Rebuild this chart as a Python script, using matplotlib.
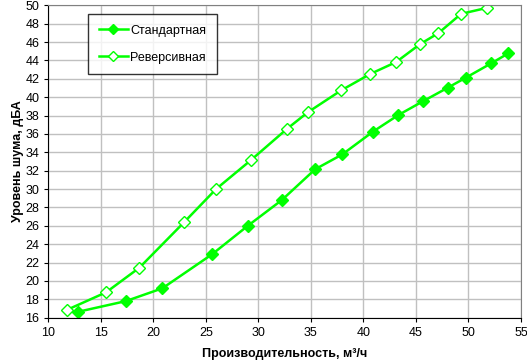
import matplotlib
matplotlib.use('Agg')
import matplotlib.pyplot as plt
from matplotlib.ticker import MultipleLocator

plt.rcParams['font.family'] = ['Liberation Sans', 'DejaVu Sans']

# data
std_x = [12.86, 17.37, 20.86, 25.59, 28.99, 32.23, 35.4, 38.0, 40.9, 43.33, 45.71, 48.03, 49.75, 52.16, 53.8]
std_y = [16.65, 17.8, 19.2, 22.9, 26.0, 28.8, 32.15, 33.78, 36.24, 38.06, 39.58, 41.03, 42.12, 43.68, 44.77]

rev_x = [11.75, 15.5, 18.67, 22.92, 25.97, 29.27, 32.7, 34.7, 37.88, 40.64, 43.11, 45.4, 47.14, 49.3, 51.8]
rev_y = [16.84, 18.76, 21.44, 26.38, 30.0, 33.13, 36.53, 38.35, 40.74, 42.52, 43.82, 45.78, 46.97, 49.07, 49.73]

labels = ['Стандартная', 'Реверсивная']
x_label = 'Производительность, м³/ч'
y_label = 'Уровень шума, дБА'

green = '#00ff00'

fig = plt.figure(figsize=(5.27, 3.62), dpi=100)
ax = fig.add_axes([0.0917, 0.1224, 0.8969, 0.863])

ax.plot(std_x, std_y, color=green, lw=1.8, marker='D', ms=6,
        mfc=green, mec=green, label=labels[0])
ax.plot(rev_x, rev_y, color=green, lw=1.8, marker='D', ms=6,
        mfc='white', mec=green, mew=1, label=labels[1])

ax.set_xlim(10, 55)
ax.set_ylim(16, 50)
ax.xaxis.set_major_locator(MultipleLocator(5))
ax.yaxis.set_major_locator(MultipleLocator(2))
ax.grid(True, color='#c0c0c0', lw=1)
ax.set_axisbelow(True)

for s in ['top', 'right']:
    ax.spines[s].set_color('#808080')
ax.spines['left'].set_color('black')
ax.spines['bottom'].set_color('black')
ax.tick_params(direction='out', length=3, labelsize=9, colors='black')

ax.set_xlabel(x_label, fontsize=9, fontweight='bold', labelpad=7)
ax.set_ylabel(y_label, fontsize=9, fontweight='bold', labelpad=1)

leg = ax.legend(loc='upper left', bbox_to_anchor=(0.0846, 0.972), borderaxespad=0,
                fontsize=9, frameon=True, fancybox=False, edgecolor='black',
                labelspacing=1.2, handlelength=2.3, borderpad=0.85, handletextpad=0.2)
leg.get_frame().set_linewidth(1)
for h in leg.legend_handles:
    h.set_markersize(5)

fig.savefig('out.png', dpi=100)
